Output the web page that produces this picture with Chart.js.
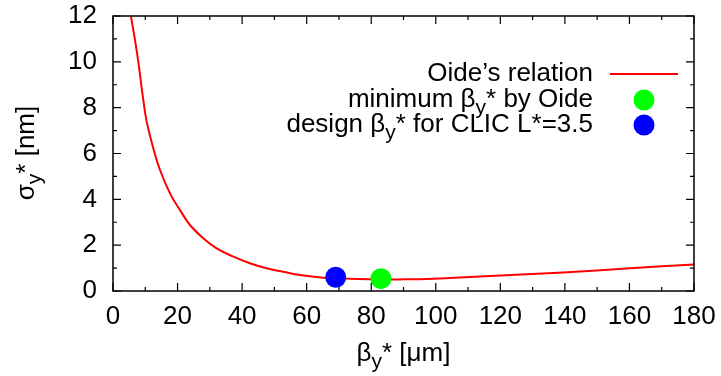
<!DOCTYPE html>
<html>
<head>
<meta charset="utf-8">
<script src="https://cdn.jsdelivr.net/npm/chart.js@4"></script>
<style>
html,body{margin:0;padding:0;background:#fff;}
#wrap{width:721px;height:376px;position:relative;}
</style>
</head>
<body>
<div id="wrap"><canvas id="c" width="721" height="376"></canvas></div>
<script>
// ---- data ----
const betaCurve  = [5.55, 6.82, 7.84, 9.39, 10.44, 12.48, 14.56, 17.66, 20.76, 23.85, 27.97, 32.1, 37.3, 42.4, 47.6, 52.8, 57.9, 65.2, 72.0, 79.6, 85.0, 91.0, 101.3, 116.8, 139.5, 160.2, 180.0];
const sigmaCurve = [12.0, 10.95, 10.0, 8.33, 7.39, 6.23, 5.28, 4.26, 3.53, 2.88, 2.30, 1.86, 1.50, 1.21, 0.99, 0.84, 0.70, 0.58, 0.54, 0.51, 0.50, 0.51, 0.55, 0.65, 0.81, 0.99, 1.16];
const minOideBeta = [83.0];
const minOideSigma = [0.54];
const designBeta = [69.0];
const designSigma = [0.60];
const xTickValues = [0, 20, 40, 60, 80, 100, 120, 140, 160, 180];
const yTickValues = [0, 2, 4, 6, 8, 10, 12];
const legendLabels = [
  [{t:"Oide’s relation"}],
  [{t:"minimum β"},{t:"y",sub:true},{t:"* by Oide"}],
  [{t:"design β"},{t:"y",sub:true},{t:"* for CLIC L*=3.5"}]
];
const xTitle = [{t:"β"},{t:"y",sub:true},{t:"* [μm]"}];
const yTitle = [{t:"σ"},{t:"y",sub:true},{t:"* [nm]"}];

const FONT = '"Liberation Sans", Arial, Helvetica, sans-serif';
const FS = 26;

function richWidth(ctx, parts, fs){
  let w=0;
  for(const p of parts){
    ctx.font = (p.sub? Math.round(fs*0.8):fs)+'px '+FONT;
    w += ctx.measureText(p.t).width;
  }
  return w;
}
function drawRich(ctx, parts, x, y, align, fs){
  const w = richWidth(ctx, parts, fs);
  let cx = align==='right'? x-w : align==='center'? x-w/2 : x;
  ctx.textBaseline='middle';
  ctx.textAlign='left';
  ctx.fillStyle='#000';
  for(const p of parts){
    const s = p.sub? Math.round(fs*0.8):fs;
    ctx.font = s+'px '+FONT;
    ctx.fillText(p.t, cx, p.sub? y+fs*0.3 : y);
    cx += ctx.measureText(p.t).width;
  }
}

const framePlugin = {
  id:'frame',
  afterDraw(chart){
    const ctx = chart.ctx, a = chart.chartArea;
    const xs = chart.scales.x, ys = chart.scales.y;
    ctx.save();
    ctx.strokeStyle='#000';
    ctx.lineWidth=1.5;
    ctx.strokeRect(a.left, a.top, a.right-a.left, a.bottom-a.top);
    ctx.lineWidth=1.2;
    ctx.beginPath();
    for(let v=xs.min; v<=xs.max+1e-9; v+=10){
      const px = xs.getPixelForValue(v);
      const L = (Math.round(v)%20===0)? 8 : 4;
      ctx.moveTo(px, a.bottom); ctx.lineTo(px, a.bottom-L);
      ctx.moveTo(px, a.top); ctx.lineTo(px, a.top+L);
    }
    for(let v=ys.min; v<=ys.max+1e-9; v+=1){
      const py = ys.getPixelForValue(v);
      const L = (Math.round(v)%2===0)? 8 : 4;
      ctx.moveTo(a.left, py); ctx.lineTo(a.left+L, py);
      ctx.moveTo(a.right, py); ctx.lineTo(a.right-L, py);
    }
    ctx.stroke();

    drawRich(ctx, xTitle, (a.left+a.right)/2, 354, 'center', FS);
    ctx.save();
    ctx.translate(27, 153);
    ctx.rotate(-Math.PI/2);
    drawRich(ctx, yTitle, 0, 0, 'center', FS);
    ctx.restore();

    const rows=[74,100,125];
    const ds = chart.data.datasets;
    for(let i=0;i<3;i++){
      drawRich(ctx, legendLabels[i], 593, rows[i], 'right', FS);
    }
    ctx.strokeStyle = ds[0].borderColor;
    ctx.lineWidth = 2;
    ctx.beginPath(); ctx.moveTo(610, rows[0]); ctx.lineTo(678, rows[0]); ctx.stroke();
    for(let i=1;i<3;i++){
      ctx.fillStyle = ds[i].backgroundColor;
      ctx.beginPath(); ctx.arc(644, rows[i], ds[i].pointRadius, 0, Math.PI*2); ctx.fill();
    }
    ctx.restore();
  }
};

new Chart(document.getElementById('c'), {
  type:'scatter',
  data:{
    datasets:[
      {
        label:"Oide’s relation",
        data: betaCurve.map((b,i)=>({x:b,y:sigmaCurve[i]})),
        showLine:true, borderColor:'#ff0000', borderWidth:2,
        pointRadius:0, tension:0.4, order:3
      },
      {
        label:"minimum βy* by Oide",
        data: minOideBeta.map((b,i)=>({x:b,y:minOideSigma[i]})),
        backgroundColor:'#00ff00', borderWidth:0, pointRadius:10.5, order:1
      },
      {
        label:"design βy* for CLIC L*=3.5",
        data: designBeta.map((b,i)=>({x:b,y:designSigma[i]})),
        backgroundColor:'#0000ff', borderWidth:0, pointRadius:10.5, order:2
      }
    ]
  },
  options:{
    responsive:false, animation:false,
    layout:{padding:{top:16,right:27,left:0,bottom:0}},
    plugins:{legend:{display:false}, tooltip:{enabled:false}},
    scales:{
      x:{
        type:'linear', min:0, max:180,
        afterBuildTicks(s){ s.ticks = xTickValues.map(v=>({value:v})); },
        afterFit(s){ s.height = 85; s.paddingLeft = 0; s.paddingRight = 0; },
        grid:{display:false, drawTicks:false}, border:{display:false},
        ticks:{color:'#000', padding:10, font:{family:FONT, size:FS}, maxRotation:0, autoSkip:false}
      },
      y:{
        type:'linear', min:0, max:12,
        afterBuildTicks(s){ s.ticks = yTickValues.map(v=>({value:v})); },
        afterFit(s){ s.width = 113; s.paddingTop = 0; s.paddingBottom = 0; },
        grid:{display:false, drawTicks:false}, border:{display:false},
        ticks:{color:'#000', padding:16, font:{family:FONT, size:FS}, autoSkip:false}
      }
    }
  },
  plugins:[framePlugin]
});
</script>
</body>
</html>
